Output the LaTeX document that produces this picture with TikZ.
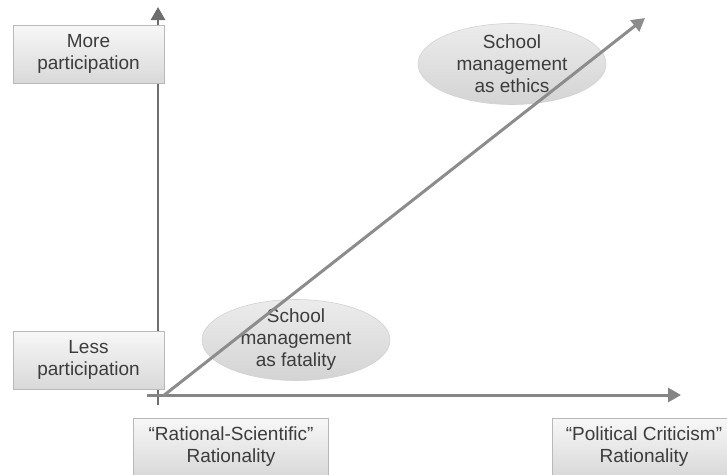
\documentclass[tikz,border=0pt]{standalone}
\usepackage{fontspec}
\setmainfont{Liberation Sans}
\usetikzlibrary{arrows.meta,shapes.geometric}
\definecolor{txt}{HTML}{3C3C3C}
\definecolor{axisv}{HTML}{6E6E6E}
\definecolor{axish}{HTML}{858585}
\definecolor{diag}{HTML}{8C8C8C}
\tikzset{
  labelbox/.style={draw=gray!55, line width=0.6pt, top color=gray!6, bottom color=gray!30,
    minimum width=151pt, minimum height=58pt, inner sep=0pt, align=center,
    text=txt, font=\fontsize{19}{22}\selectfont},
  oval/.style={ellipse, draw=gray!35, line width=0.6pt, top color=gray!15, bottom color=gray!34,
    minimum width=188pt, minimum height=81pt, inner sep=0pt},
  ovaltext/.style={align=center, text=txt, font=\fontsize{19}{22}\selectfont},
  axisarrow/.style={line width=3pt, -{Triangle[length=13pt,width=14pt]}},
}
\begin{document}
\begin{tikzpicture}[x=1pt,y=-1pt]
\useasboundingbox (0,0) rectangle (727,474);
% axis coordinates
\coordinate (vbot) at (158,405);
\coordinate (vtop) at (158,7);
\coordinate (hleft) at (147,395);
\coordinate (hright) at (681,395);
\coordinate (dstart) at (163,396);
\coordinate (dend) at (645,18);
% axes
\draw[axisarrow, color=axisv, line width=2.6pt] (vbot) -- (vtop);
\draw[axisarrow, color=axish] (hleft) -- (hright);
% boxes
\node[labelbox] (more) at (88.5,54) {More\\participation};
\node[labelbox] (less) at (88.5,360) {Less\\participation};
\node[labelbox, minimum width=195pt] (rat) at (231,447) {``Rational-Scientific''\\Rationality};
\node[labelbox, minimum width=184pt] (pol) at (644,447) {``Political Criticism''\\Rationality};
% ovals
\node[oval, label={[ovaltext]center:School\\management\\as fatality}] (fat) at (296,340) {};
\node[oval, label={[ovaltext]center:School\\management\\as ethics}] (eth) at (512,64) {};
% diagonal arrow on top
\draw[axisarrow, color=diag] (dstart) -- (dend);
\end{tikzpicture}
\end{document}
